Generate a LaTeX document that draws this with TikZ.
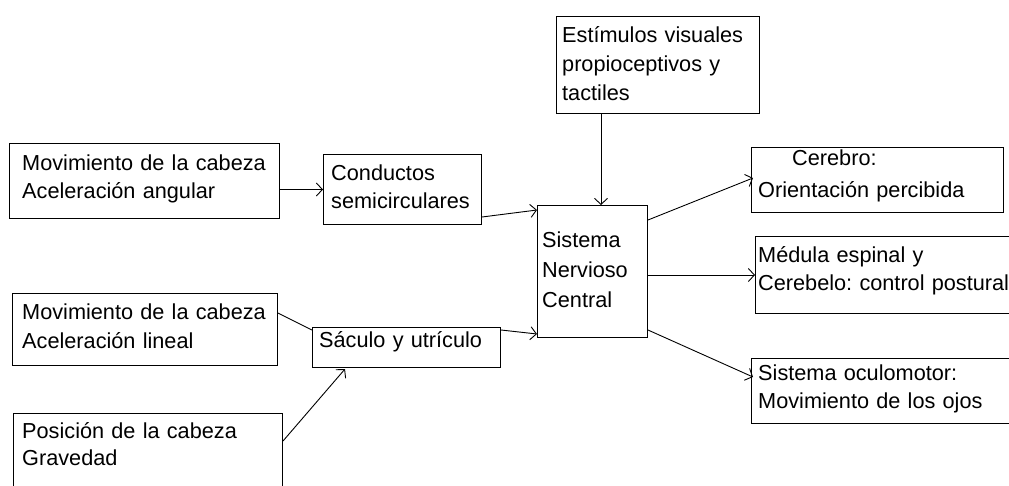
\documentclass[tikz,border=0pt]{standalone}
\usepackage{fontspec}
\setmainfont{Liberation Sans}
\usetikzlibrary{arrows.meta,calc}
\frenchspacing
\tikzset{
  box/.style={draw, line width=1pt, rectangle, inner sep=0pt, anchor=north west},
  txt/.style={inner sep=0pt, anchor=base west, text width=300pt, align=left,
    font=\fontsize{21.7}{28}\selectfont\frenchspacing},
  arr/.style={line width=0.9pt, -{Straight Barb[length=6pt,width=13pt,line width=0.9pt]}},
  ln/.style={line width=0.9pt}
}
\begin{document}
\begin{tikzpicture}[x=1pt,y=-1pt]
\useasboundingbox[fill=white] (0,0) rectangle (1009,485);
% boxes
\node[box, minimum width=270pt, minimum height=75pt] (A) at (9,143) {};
\node[box, minimum width=158pt, minimum height=70pt] (C) at (323,154) {};
\node[box, minimum width=265pt, minimum height=72pt] (L) at (12,293) {};
\node[box, minimum width=188pt, minimum height=40pt] (Sa) at (312,327) {};
\node[box, minimum width=269pt, minimum height=100pt] (P) at (13,413) {};
\node[box, minimum width=203pt, minimum height=97pt] (E) at (556,16) {};
\node[box, minimum width=110pt, minimum height=132pt] (S) at (537,205) {};
\node[box, minimum width=252pt, minimum height=65pt] (Cb) at (751,147) {};
\node[box, minimum width=280pt, minimum height=77pt] (M) at (755,236) {};
\node[box, minimum width=280pt, minimum height=65pt] (O) at (751,358) {};
% texts
\node[txt] (tA) at (22,170) {Movimiento de la cabeza\\Aceleración angular};
\node[txt] (tC) at (331,180) {Conductos\\semicirculares};
\node[txt, font=\fontsize{21.7}{29}\selectfont\frenchspacing] (tL) at (22,319) {Movimiento de la cabeza\\Aceleración lineal};
\node[txt] (tSa) at (319,347) {Sáculo y utrículo};
\node[txt, font=\fontsize{21.7}{27}\selectfont\frenchspacing] (tP) at (22,438) {Posición de la cabeza\\Gravedad};
\node[txt, font=\fontsize{21.7}{29}\selectfont\frenchspacing] (tE) at (562,42) {Estímulos visuales\\propioceptivos y\\tactiles};
\node[txt, font=\fontsize{21.7}{30}\selectfont\frenchspacing] (tS) at (542,247) {Sistema\\Nervioso\\Central};
\node[txt, font=\fontsize{21.7}{32}\selectfont\frenchspacing] (tCb) at (758,165) {\hspace*{34pt}Cerebro:\\Orientación percibida};
\node[txt] (tM) at (758,262) {Médula espinal y\\Cerebelo: control postural};
\node[txt] (tO) at (758,380) {Sistema oculomotor:\\Movimiento de los ojos};
% connectors
\draw[arr] (A.east |- C.west) -- (C.west);
\draw[arr] ($(C.south east)+(0,-8)$) -- ($(S.north west)+(0,5)$);
\draw[ln] ($(L.north east)+(0,20)$) -- ($(Sa.north west)+(0,3)$);
\draw[arr] ($(P.north east)+(0,28)$) -- ($(Sa.south west)+(33,1)$);
\draw[arr] ($(Sa.north east)+(0,3)$) -- ($(S.south west)+(0,-4)$);
\draw[arr] ($(E.south west)+(45,0)$) -- ($(S.north west)+(64,0)$);
\draw[arr] ($(S.north east)+(0,15)$) -- ($(Cb.west)+(2,-2)$);
\draw[arr] (S.east |- M.west) -- (M.west);
\draw[arr] ($(S.south east)+(0,-8)$) -- ($(O.north west)+(2,19)$);
\end{tikzpicture}
\end{document}
